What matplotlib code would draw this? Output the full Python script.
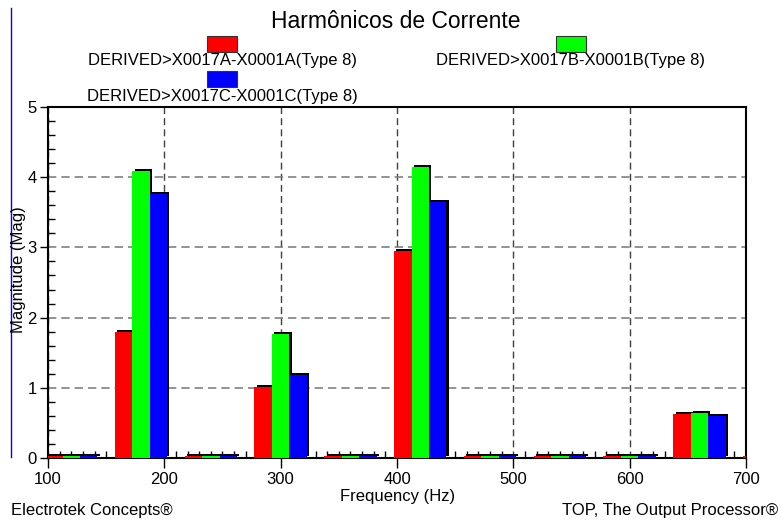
import matplotlib
matplotlib.use("Agg")
import matplotlib.pyplot as plt
import matplotlib.patheffects as pe
from matplotlib.patches import Rectangle
from matplotlib.lines import Line2D
from matplotlib.ticker import MultipleLocator
import numpy as np

plt.rcParams['font.family'] = ['Liberation Sans', 'DejaVu Sans']

# --- data ---
freqs = [120, 180, 240, 300, 360, 420, 480, 540, 600, 660, 720]
phase_a = [0.03, 1.79, 0.03, 1.01, 0.03, 2.95, 0.03, 0.03, 0.03, 0.63, 0.03]
phase_b = [0.03, 4.09, 0.03, 1.76, 0.03, 4.14, 0.03, 0.03, 0.03, 0.64, 0.03]
phase_c = [0.03, 3.76, 0.03, 1.18, 0.03, 3.65, 0.03, 0.03, 0.03, 0.60, 0.03]
series_names = ["DERIVED>X0017A-X0001A(Type 8)",
                "DERIVED>X0017B-X0001B(Type 8)",
                "DERIVED>X0017C-X0001C(Type 8)"]
series_colors = ["#ff0000", "#00ff00", "#0000ff"]

W, H = 780, 522
fig = plt.figure(figsize=(W / 100, H / 100), dpi=100)
ax = fig.add_axes([48 / W, 1 - 458 / H, 698 / W, 351 / H])

# bars with a black drop shadow (up and to the right)
bar_w = 15
shadow = [pe.SimplePatchShadow(offset=(1.6, 1.6), shadow_rgbFace="black", alpha=1.0),
          pe.Normal()]
x = np.array(freqs)
for i, (vals, col) in enumerate(zip([phase_a, phase_b, phase_c], series_colors)):
    bars = ax.bar(x + (i - 1) * bar_w, vals, width=bar_w, color=col,
                  linewidth=0, zorder=3)
    for b in bars:
        b.set_path_effects(shadow)

ax.set_xlim(100, 700)
ax.set_ylim(0, 5)
ax.xaxis.set_major_locator(MultipleLocator(100))
ax.xaxis.set_minor_locator(MultipleLocator(10))
ax.yaxis.set_major_locator(MultipleLocator(1))
ax.yaxis.set_minor_locator(MultipleLocator(0.2))
ax.tick_params(which="major", direction="out", length=6, width=1, labelsize=12,
               color="black", pad=2)
ax.tick_params(which="minor", direction="in", length=5, width=1, color="black")
ax.tick_params(axis="x", which="major", length=7, pad=3)
ax.tick_params(top=False, right=False, which="both")

ax.set_axisbelow(True)
ax.grid(axis="y", which="major", linestyle=(0, (5, 3)), color="#808080", linewidth=1.2)
ax.grid(axis="x", which="major", linestyle=(0, (5, 3)), color="#404040", linewidth=1.0)
for s in ax.spines.values():
    s.set_linewidth(1.5)
    s.set_color("black")

# axis titles placed to match the reference
fig.text(398 / W, 1 - 496 / H, "Frequency (Hz)", fontsize=12, ha="center", va="center")
fig.text(19 / W, 1 - 270 / H, "Magnitude (Mag)", fontsize=12, ha="center", va="center",
         rotation=90)

# title
fig.text(396 / W, 1 - 21 / H, "Harmônicos de Corrente", fontsize=16.5,
         ha="center", va="center")

# legend, drawn by hand: patch above each label
legend_pos = [(222, 61), (571, 61), (222, 96)]
for (lx, ly), name, col in zip(legend_pos, series_names, series_colors):
    fig.patches.append(Rectangle(((lx - 15) / W, 1 - (ly - 9) / H), 30 / W, 16 / H,
                                 transform=fig.transFigure, facecolor=col,
                                 edgecolor="#333333", linewidth=0.8))
    fig.text(lx / W, 1 - ly / H, name, fontsize=12, ha="center", va="center")

# blue marker line on the left edge
fig.add_artist(Line2D([11 / W, 11 / W], [1 - 8 / H, 1 - 457 / H],
                      transform=fig.transFigure, color="#0000ff", linewidth=1))

# footer
fig.text(11 / W, 1 - 511 / H, "Electrotek Concepts®", fontsize=12,
         ha="left", va="center")
fig.text(778 / W, 1 - 511 / H, "TOP, The Output Processor®", fontsize=12,
         ha="right", va="center")

fig.savefig("out.png", dpi=100)
